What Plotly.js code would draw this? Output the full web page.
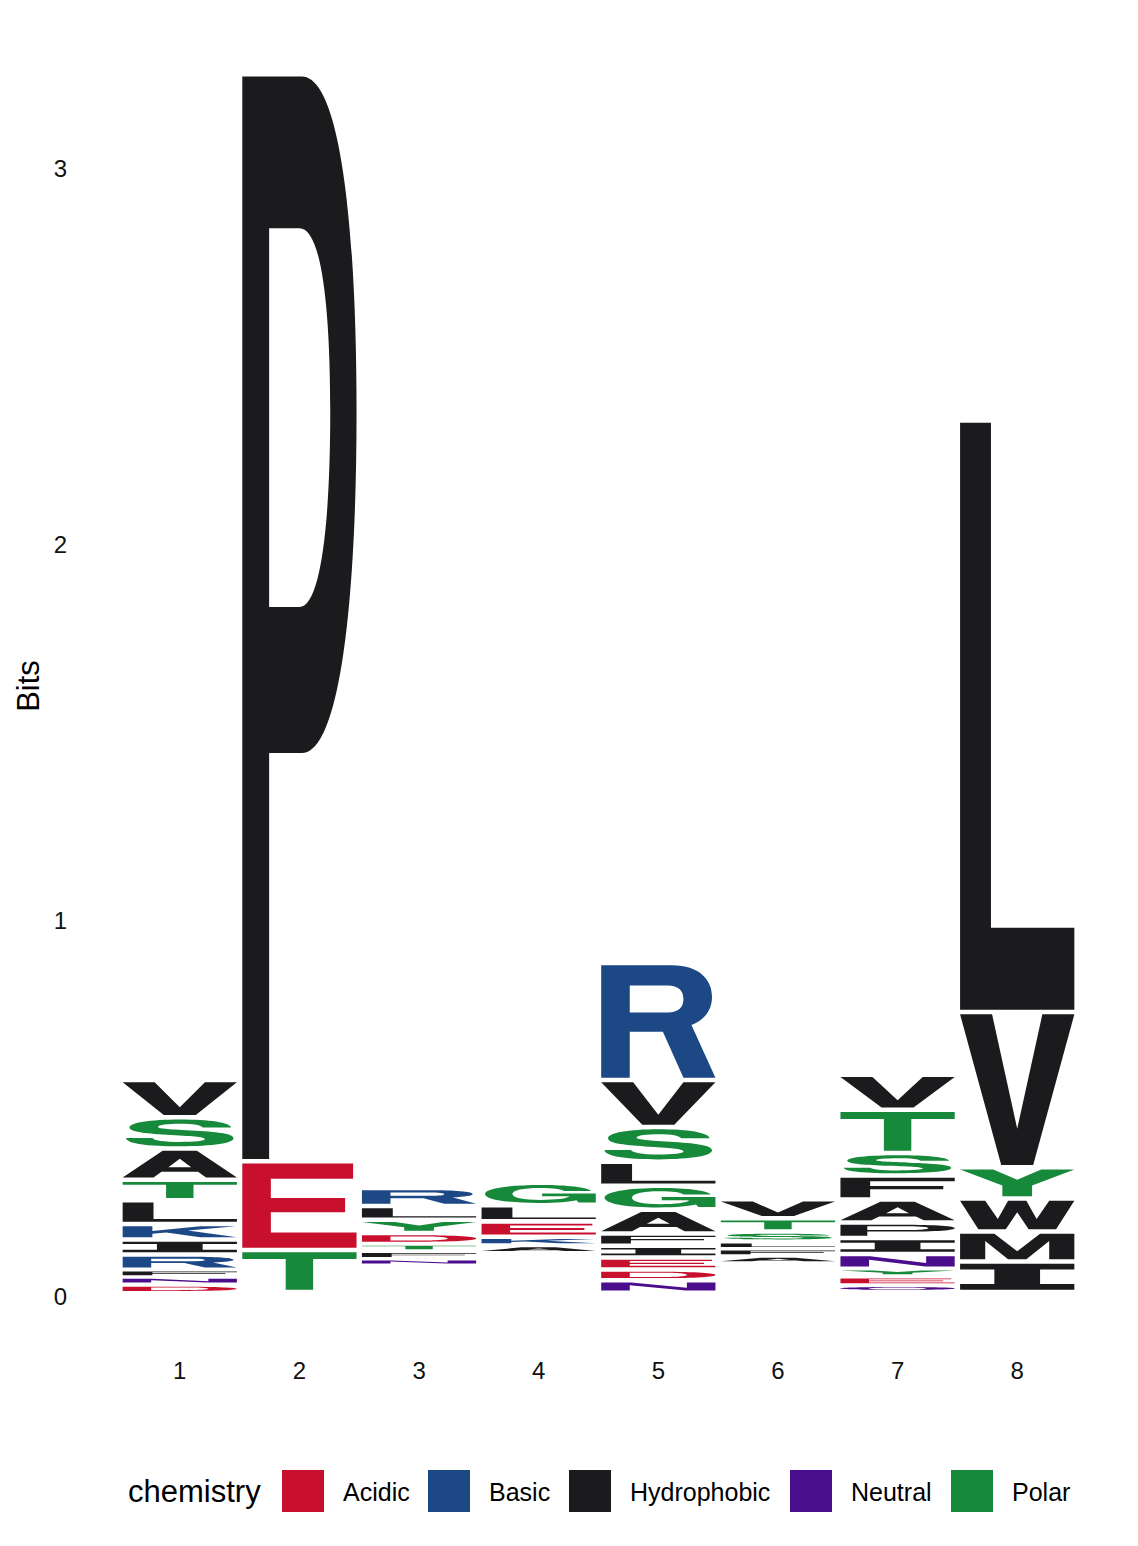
<!DOCTYPE html>
<html>
<head>
<meta charset="utf-8">
<script src="https://cdn.plot.ly/plotly-3.0.1.min.js"></script>
<style>
  html, body { margin: 0; padding: 0; background: #fff; }
  #logo { width: 1138px; height: 1546px; }
</style>
</head>
<body>
<div id="logo"></div>
<script>
// sequence logo (bits) – letters are path shapes placed on the data axes

const POSITIONS = [1, 2, 3, 4, 5, 6, 7, 8];
const CHEMISTRY = ['Acidic', 'Basic', 'Hydrophobic', 'Neutral', 'Polar'];

// letters listed bottom -> top, with their height in bits
const col1Letters = ['D', 'N', 'F', 'R', 'I', 'K', 'L', 'T', 'A', 'S', 'V'];
const col1Bits    = [0.023, 0.020, 0.019, 0.041, 0.040, 0.041, 0.063, 0.055, 0.083, 0.083, 0.099];
const col2Letters = ['T', 'E', 'P'];
const col2Bits    = [0.112, 0.236, 2.893];
const col3Letters = ['N', 'F', 'T', 'D', 'Y', 'L', 'R'];
const col3Bits    = [0.016, 0.021, 0.019, 0.029, 0.035, 0.037, 0.048];
const col4Letters = ['A', 'K', 'E', 'L', 'G'];
const col4Bits    = [0.020, 0.023, 0.041, 0.043, 0.060];
const col5Letters = ['N', 'D', 'E', 'I', 'F', 'A', 'G', 'L', 'S', 'V', 'R'];
const col5Bits    = [0.033, 0.029, 0.032, 0.031, 0.033, 0.063, 0.064, 0.064, 0.092, 0.125, 0.312];
const col6Letters = ['A', 'F', 'L', 'S', 'T', 'V'];
const col6Bits    = [0.019, 0.019, 0.019, 0.027, 0.035, 0.051];
const col7Letters = ['Q', 'E', 'Y', 'N', 'I', 'P', 'A', 'F', 'S', 'T', 'V'];
const col7Bits    = [0.015, 0.025, 0.020, 0.039, 0.043, 0.041, 0.061, 0.064, 0.060, 0.115, 0.093];
const col8Letters = ['I', 'M', 'W', 'Y', 'V', 'L'];
const col8Bits    = [0.081, 0.080, 0.088, 0.083, 0.413, 1.575];
// combined height of the rare letters too thin to see, under each stack
const rareBits = [0.008, 0.011, 0.083, 0.115, 0.009, 0.088, 0.013, 0.011];

const COLUMNS = [
  [col1Letters, col1Bits], [col2Letters, col2Bits], [col3Letters, col3Bits], [col4Letters, col4Bits],
  [col5Letters, col5Bits], [col6Letters, col6Bits], [col7Letters, col7Bits], [col8Letters, col8Bits],
];

const GROUP_OF = {
  D: 'Acidic', E: 'Acidic',
  K: 'Basic', R: 'Basic', H: 'Basic',
  A: 'Hydrophobic', V: 'Hydrophobic', L: 'Hydrophobic', I: 'Hydrophobic', P: 'Hydrophobic',
  W: 'Hydrophobic', F: 'Hydrophobic', M: 'Hydrophobic',
  N: 'Neutral', Q: 'Neutral',
  G: 'Polar', S: 'Polar', T: 'Polar', Y: 'Polar', C: 'Polar',
};

const COLORS = {
  Acidic: '#c8102e',
  Basic: '#1d4886',
  Hydrophobic: '#1b1a1c',
  Neutral: '#4a0d8b',
  Polar: '#17893a',
};

// glyph outlines in a unit box (x right, y up)
const GLYPHS = {
  A: 'M0 0 L0.35 1 L0.65 1 L1 0 L0.73 0 L0.66 0.21 L0.34 0.21 L0.27 0 Z M0.4 0.38 L0.6 0.38 L0.5 0.7 Z',
  D: 'M0 0 L0 1 L0.52 1 C0.84 1 1 0.78 1 0.5 C1 0.22 0.84 0 0.52 0 Z M0.25 0.18 L0.48 0.18 C0.67 0.18 0.75 0.3 0.75 0.5 C0.75 0.7 0.67 0.82 0.48 0.82 L0.25 0.82 Z',
  E: 'M0 0 L1 0 L1 0.18 L0.25 0.18 L0.25 0.42 L0.9 0.42 L0.9 0.59 L0.25 0.59 L0.25 0.82 L0.97 0.82 L0.97 1 L0 1 Z',
  F: 'M0 0 L0 1 L1 1 L1 0.82 L0.26 0.82 L0.26 0.58 L0.9 0.58 L0.9 0.41 L0.26 0.41 L0.26 0 Z',
  G: 'M0.96 0.66 C0.93 0.88 0.75 1 0.52 1 C0.22 1 0.03 0.79 0.03 0.5 C0.03 0.2 0.22 0 0.5 0 C0.66 0 0.78 0.07 0.83 0.15 L0.85 0.02 L1 0.02 L1 0.53 L0.53 0.53 L0.53 0.37 L0.77 0.37 C0.75 0.24 0.65 0.17 0.52 0.17 C0.36 0.17 0.27 0.3 0.27 0.5 C0.27 0.7 0.36 0.83 0.51 0.83 C0.63 0.83 0.7 0.77 0.72 0.66 Z',
  I: 'M0 0 L1 0 L1 0.22 L0.7 0.22 L0.7 0.78 L1 0.78 L1 1 L0 1 L0 0.78 L0.3 0.78 L0.3 0.22 L0 0.22 Z',
  K: 'M0 0 L0 1 L0.26 1 L0.26 0.57 L0.68 1 L0.99 1 L0.57 0.6 L1 0 L0.68 0 L0.38 0.43 L0.26 0.31 L0.26 0 Z',
  L: 'M0 0 L1 0 L1 0.14 L0.27 0.14 L0.27 1 L0 1 Z',
  M: 'M0 0 L0 1 L0.3 1 L0.5 0.32 L0.7 1 L1 1 L1 0 L0.78 0 L0.78 0.72 L0.58 0 L0.42 0 L0.22 0.72 L0.22 0 Z',
  N: 'M0 0 L0 1 L0.26 1 L0.75 0.35 L0.75 1 L1 1 L1 0 L0.74 0 L0.25 0.65 L0.25 0 Z',
  P: 'M0 0 L0 1 L0.52 1 C0.86 1 1 0.86 1 0.69 C1 0.52 0.86 0.375 0.52 0.375 L0.235 0.375 L0.235 0 Z M0.235 0.86 L0.5 0.86 C0.69 0.86 0.77 0.79 0.77 0.69 C0.77 0.59 0.69 0.51 0.5 0.51 L0.235 0.51 Z',
  Q: 'M0.5 1 C0.8 1 1 0.78 1 0.5 C1 0.22 0.8 0 0.5 0 C0.2 0 0 0.22 0 0.5 C0 0.78 0.2 1 0.5 1 Z M0.5 0.82 C0.33 0.82 0.25 0.68 0.25 0.5 C0.25 0.32 0.33 0.18 0.5 0.18 C0.67 0.18 0.75 0.32 0.75 0.5 C0.75 0.68 0.67 0.82 0.5 0.82 Z',
  R: 'M0 0 L0 1 L0.62 1 C0.86 1 0.97 0.87 0.97 0.72 C0.97 0.6 0.9 0.51 0.79 0.47 L1 0 L0.72 0 L0.54 0.41 L0.25 0.41 L0.25 0 Z M0.25 0.82 L0.58 0.82 C0.68 0.82 0.72 0.77 0.72 0.7 C0.72 0.63 0.68 0.58 0.58 0.58 L0.25 0.58 Z',
  S: 'M0.95 0.7 C0.94 0.89 0.76 1 0.5 1 C0.24 1 0.06 0.88 0.06 0.7 C0.06 0.52 0.22 0.47 0.42 0.42 C0.64 0.37 0.72 0.34 0.72 0.26 C0.72 0.2 0.63 0.16 0.5 0.16 C0.36 0.16 0.27 0.22 0.26 0.31 L0.03 0.31 C0.03 0.1 0.22 0 0.5 0 C0.8 0 0.97 0.12 0.97 0.3 C0.97 0.48 0.82 0.54 0.6 0.59 C0.38 0.64 0.31 0.66 0.31 0.73 C0.31 0.8 0.4 0.84 0.5 0.84 C0.62 0.84 0.69 0.79 0.7 0.7 Z',
  T: 'M0 1 L1 1 L1 0.82 L0.62 0.82 L0.62 0 L0.38 0 L0.38 0.82 L0 0.82 Z',
  V: 'M0 1 L0.28 1 L0.5 0.24 L0.72 1 L1 1 L0.64 0 L0.36 0 Z',
  W: 'M0 1 L0.22 1 L0.33 0.36 L0.42 1 L0.58 1 L0.67 0.36 L0.78 1 L1 1 L0.84 0 L0.6 0 L0.5 0.6 L0.4 0 L0.16 0 Z',
  Y: 'M0 1 L0.29 1 L0.5 0.62 L0.71 1 L1 1 L0.63 0.4 L0.63 0 L0.37 0 L0.37 0.4 Z',
};

const LETTER_WIDTH = 0.955;  // in position units
const PAD = 0.006;           // bits of white space above and below each glyph
const FONT = '"Liberation Sans", Arial, Helvetica, sans-serif';

const W = 1138, H = 1546;
const M = { l: 108, r: 49, t: 15, b: 189 };

// map a unit-box glyph into data coordinates
function placeGlyph(glyph, cx, y0, y1) {
  const left = cx - LETTER_WIDTH / 2;
  let out = '', k = 0, gx = 0;
  for (const tok of glyph.match(/[MLCZ]|[-\d.]+/g)) {
    if (/[MLCZ]/.test(tok)) { out += tok; k = 0; continue; }
    const v = parseFloat(tok);
    if (k % 2 === 0) gx = left + LETTER_WIDTH * v;
    else out += gx.toFixed(4) + ',' + (y0 + (y1 - y0) * v).toFixed(5) + ' ';
    k++;
  }
  return out;
}

const shapes = [];
const totals = [];
COLUMNS.forEach(([letters, bits], i) => {
  let y = rareBits[i];
  letters.forEach((ch, j) => {
    const h = bits[j];
    const pad = Math.min(PAD, h * 0.25);
    shapes.push({
      type: 'path', xref: 'x', yref: 'y', layer: 'above',
      path: placeGlyph(GLYPHS[ch], POSITIONS[i], y + pad, y + h - pad),
      fillcolor: COLORS[GROUP_OF[ch]], fillrule: 'evenodd',
      line: { width: 0 },
    });
    y += h;
  });
  totals.push(y);
});

// ── legend, drawn by hand so the swatches can be large ──
const plotW = W - M.l - M.r, plotH = H - M.t - M.b;
const px2x = (px) => (px - M.l) / plotW;
const px2y = (py) => (H - M.b - py) / plotH;
const LEG_SWATCH_X = [282, 428, 569, 790, 951];
const LEG_TOP = 1470, LEG_SIZE = 42;

const annotations = [{
  xref: 'paper', yref: 'paper', x: px2x(126), y: px2y(LEG_TOP + LEG_SIZE / 2 + 1),
  xanchor: 'left', yanchor: 'middle', showarrow: false,
  text: 'chemistry', font: { family: FONT, size: 31, color: '#000' },
}];
CHEMISTRY.forEach((name, i) => {
  const x0 = LEG_SWATCH_X[i];
  shapes.push({
    type: 'rect', xref: 'paper', yref: 'paper',
    x0: px2x(x0), x1: px2x(x0 + LEG_SIZE),
    y0: px2y(LEG_TOP + LEG_SIZE), y1: px2y(LEG_TOP),
    fillcolor: COLORS[name], line: { width: 0 },
  });
  annotations.push({
    xref: 'paper', yref: 'paper', x: px2x(x0 + LEG_SIZE + 17), y: px2y(LEG_TOP + LEG_SIZE / 2 + 1),
    xanchor: 'left', yanchor: 'middle', showarrow: false,
    text: name, font: { family: FONT, size: 25, color: '#000' },
  });
});

const traces = [{
  x: POSITIONS, y: totals, type: 'scatter', mode: 'markers',
  marker: { opacity: 0 }, hoverinfo: 'skip', showlegend: false,
}];

const layout = {
  width: W, height: H,
  margin: M,
  paper_bgcolor: '#fff', plot_bgcolor: '#fff',
  font: { family: FONT, color: '#000' },
  showlegend: false,
  xaxis: {
    range: [0.4, 8.6], tickvals: POSITIONS, ticktext: POSITIONS.map(String),
    showgrid: false, zeroline: false, showline: false, ticks: '',
    tickfont: { size: 24, color: '#111' }, ticklabelstandoff: -3,
  },
  yaxis: {
    range: [-0.162, 3.41], tickvals: [0, 1, 2, 3],
    showgrid: false, zeroline: false, showline: false, ticks: '',
    tickfont: { size: 24, color: '#111' }, ticklabelstandoff: 40,
    title: { text: 'Bits', font: { size: 31, color: '#000' }, standoff: 4 },
  },
  shapes: shapes,
  annotations: annotations,
};

Plotly.newPlot('logo', traces, layout, { displayModeBar: false, staticPlot: true });
</script>
</body>
</html>
